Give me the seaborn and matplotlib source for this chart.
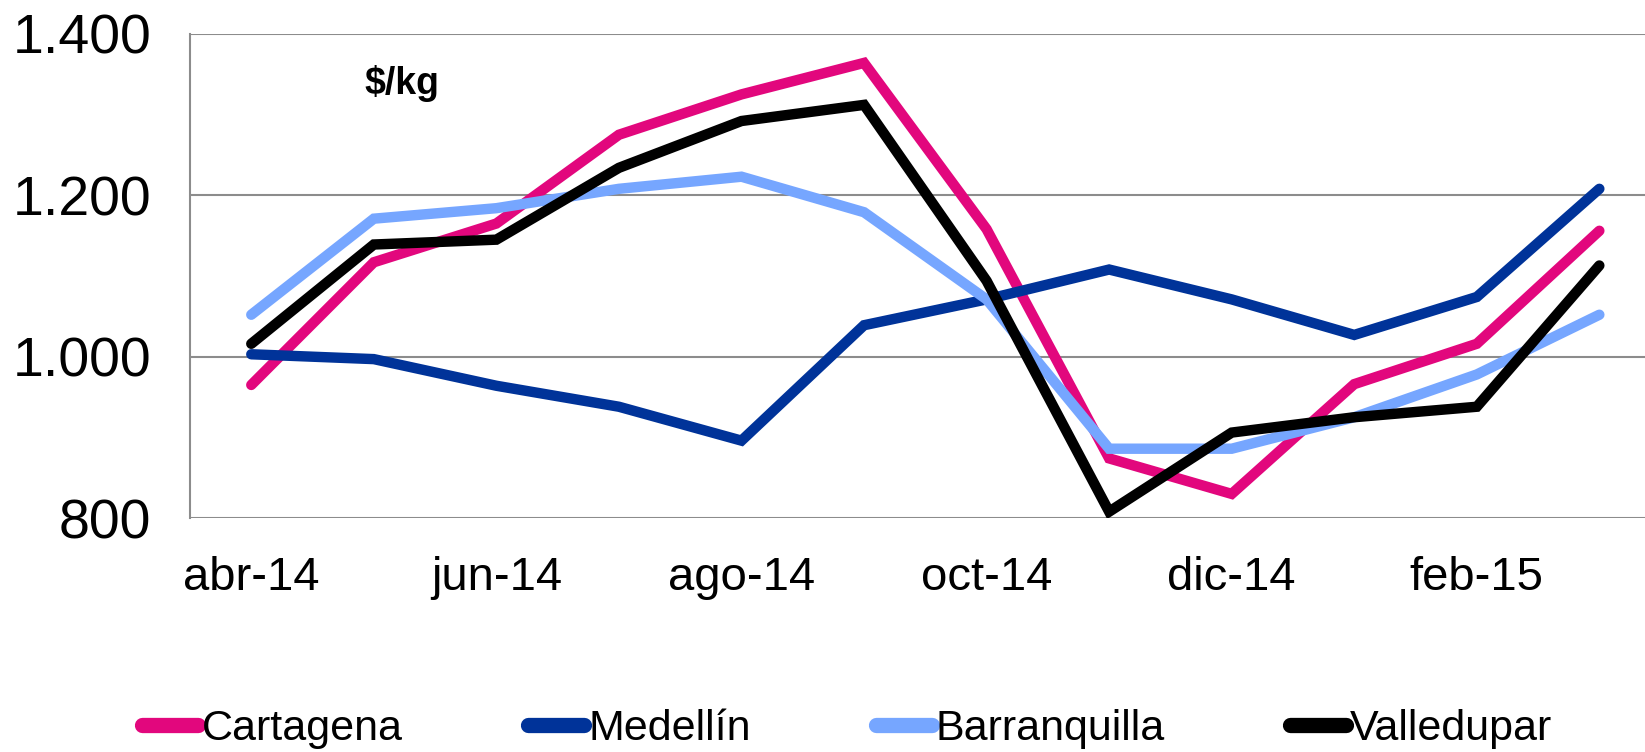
import matplotlib
matplotlib.use("Agg")
import matplotlib.pyplot as plt
import matplotlib.ticker as mticker
import numpy as np
import pandas as pd
import seaborn as sns

# ── Data ──────────────────────────────────────────────────────────────────────
MONTHS = ["abr-14", "may-14", "jun-14", "jul-14", "ago-14", "sep-14",
          "oct-14", "nov-14", "dic-14", "ene-15", "feb-15", "mar-15"]

cartagena    = [965, 1117, 1165, 1275, 1325, 1364, 1158, 874, 830, 966, 1016, 1156]
medellin     = [1003, 997, 964, 938, 896, 1039, 1071, 1108, 1071, 1027, 1074, 1208]
barranquilla = [1052, 1171, 1184, 1208, 1223, 1179, 1071, 886, 886, 925, 978, 1052]
valledupar   = [1016, 1139, 1145, 1234, 1292, 1312, 1094, 808, 906, 925, 938, 1113]

SERIES = ["Cartagena", "Medellín", "Barranquilla", "Valledupar"]
COLORS = ["#E2077D", "#003399", "#76A6FF", "#000000"]

rows = []
for name, vals in zip(SERIES, [cartagena, medellin, barranquilla, valledupar]):
    for i, v in enumerate(vals):
        rows.append({"idx": i, "value": v, "city": name})
df = pd.DataFrame(rows)

# ── Style ─────────────────────────────────────────────────────────────────────
sns.set_theme(style="white")
plt.rcParams["font.family"] = ["Liberation Sans", "DejaVu Sans"]
plt.rcParams["text.color"] = "black"
plt.rcParams["xtick.color"] = "black"
plt.rcParams["ytick.color"] = "black"

fig = plt.figure(figsize=(16.45, 7.52), dpi=100)
ax = fig.add_axes([0.1155, 0.311, 0.894, 0.644])

sns.lineplot(data=df, x="idx", y="value", hue="city", hue_order=SERIES,
             palette=COLORS, linewidth=7.5, sort=False, legend=False, ax=ax,
             solid_capstyle="round", solid_joinstyle="miter")

ax.set_xlim(-0.5, 11.5)
ax.set_ylim(800, 1400)
ax.set_yticks([800, 1000, 1200, 1400])
ax.yaxis.set_major_formatter(
    mticker.FuncFormatter(lambda v, p: f"{int(v):,}".replace(",", ".")))
ax.set_xticks(range(0, 12, 2))
ax.set_xticklabels(MONTHS[::2])
ax.tick_params(axis="y", labelsize=40, length=0, pad=28)
ax.tick_params(axis="x", labelsize=34, length=0, pad=27)
ax.set_xlabel("")
ax.set_ylabel("")

ax.yaxis.grid(True, color="#8c8c8c", linewidth=1.5)
ax.set_axisbelow(True)
for side in ["top", "right", "bottom"]:
    ax.spines[side].set_visible(False)
ax.spines["left"].set_color("#8c8c8c")
ax.spines["left"].set_linewidth(1.5)

ax.text(0.92, 1338, "$/kg", fontsize=27, fontweight="bold", va="center")

handles = [plt.Line2D([], [], color=c, linewidth=11, solid_capstyle="round")
           for c in COLORS]
fig.legend(handles, SERIES, loc="center", bbox_to_anchor=(0.515, 0.03),
           ncol=4, frameon=False, fontsize=31, handlelength=1.3,
           handletextpad=0.1, columnspacing=2.9)

fig.savefig("out.png", dpi=100)
